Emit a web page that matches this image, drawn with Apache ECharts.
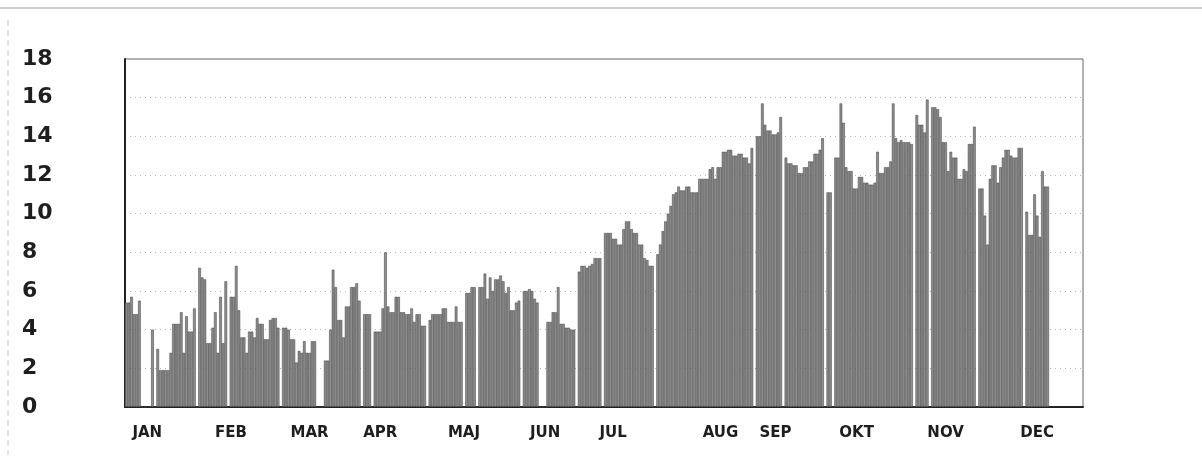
<!DOCTYPE html>
<html>
<head>
<meta charset="utf-8">
<title>Daily values by month</title>
<script src="https://cdn.jsdelivr.net/npm/echarts@6/dist/echarts.min.js"></script>
<style>
  html, body { margin: 0; padding: 0; background: #fff; }
  #chart { width: 1202px; height: 461px; }
</style>
</head>
<body>
<div id="chart"></div>
<script>
// daily values (0 = no bar / gap day)
const dailyValues = [
  5.4, 5.4, 5.7, 4.8, 4.8, 5.5, 0, 0, 0, 0,
  4.0, 0, 3.0, 1.9, 1.9, 1.9, 1.9, 2.8, 4.3, 4.3,
  4.3, 4.9, 2.8, 4.7, 3.9, 3.9, 5.1, 0, 7.2, 6.7,
  6.6, 3.3, 3.3, 4.1, 4.9, 2.8, 5.7, 3.3, 6.5, 0,
  5.7, 5.7, 7.3, 5.0, 3.6, 3.6, 2.8, 3.9, 3.9, 3.6,
  4.6, 4.3, 4.3, 3.5, 3.5, 4.5, 4.6, 4.6, 4.1, 0,
  4.1, 4.1, 4.0, 3.5, 3.5, 2.3, 2.9, 2.8, 3.4, 2.8,
  2.8, 3.4, 3.4, 0, 0, 0, 2.4, 2.4, 4.0, 7.1,
  6.2, 4.5, 4.5, 3.6, 5.2, 5.2, 6.2, 6.2, 6.4, 5.5,
  0, 4.8, 4.8, 4.8, 0, 3.9, 3.9, 3.9, 5.1, 8.0,
  5.2, 4.9, 4.9, 5.7, 5.7, 4.9, 4.9, 4.8, 4.8, 5.1,
  4.4, 4.8, 4.8, 4.2, 4.2, 0, 4.5, 4.8, 4.8, 4.8,
  4.8, 5.1, 5.1, 4.4, 4.4, 4.4, 5.2, 4.4, 4.4, 0,
  5.9, 5.9, 6.2, 6.2, 0, 6.2, 6.2, 6.9, 5.6, 6.7,
  6.0, 6.6, 6.6, 6.8, 6.5, 5.9, 6.2, 5.0, 5.0, 5.4,
  5.5, 0, 6.0, 6.0, 6.1, 6.0, 5.6, 5.4, 0, 0,
  0, 4.4, 4.4, 4.9, 4.9, 6.2, 4.3, 4.3, 4.1, 4.1,
  4.0, 4.0, 0, 7.0, 7.3, 7.3, 7.2, 7.3, 7.4, 7.7,
  7.7, 7.7, 0, 9.0, 9.0, 9.0, 8.7, 8.7, 8.4, 8.4,
  9.2, 9.6, 9.6, 9.2, 9.0, 9.0, 8.4, 8.4, 7.7, 7.6,
  7.3, 7.3, 0, 7.9, 8.4, 9.1, 9.6, 10.0, 10.4, 11.0,
  11.1, 11.4, 11.2, 11.2, 11.4, 11.4, 11.1, 11.1, 11.1, 11.8,
  11.8, 11.8, 11.8, 12.3, 12.4, 11.8, 12.4, 12.4, 13.2, 13.2,
  13.3, 13.3, 13.0, 13.0, 13.1, 13.1, 12.9, 12.9, 12.6, 13.4,
  0, 14.0, 14.0, 15.7, 14.6, 14.3, 14.3, 14.1, 14.1, 14.2,
  15.0, 0, 12.9, 12.6, 12.6, 12.5, 12.5, 12.1, 12.1, 12.4,
  12.4, 12.7, 12.7, 13.1, 13.1, 13.3, 13.9, 0, 11.1, 11.1,
  0, 12.9, 12.9, 15.7, 14.7, 12.4, 12.2, 12.2, 11.3, 11.3,
  11.9, 11.9, 11.6, 11.6, 11.5, 11.5, 11.6, 13.2, 12.1, 12.1,
  12.4, 12.4, 12.7, 15.7, 13.9, 13.7, 13.8, 13.7, 13.7, 13.7,
  13.6, 0, 15.1, 14.6, 14.6, 14.2, 15.9, 0, 15.5, 15.5,
  15.4, 15.0, 13.7, 13.7, 12.2, 13.2, 12.9, 12.9, 11.8, 11.8,
  12.3, 12.2, 13.6, 13.6, 14.5, 0, 11.3, 11.3, 9.9, 8.4,
  11.8, 12.5, 12.5, 11.6, 12.4, 12.9, 13.3, 13.3, 13.0, 12.9,
  12.9, 13.4, 13.4, 0, 10.1, 8.9, 8.9, 11.0, 9.9, 8.8,
  12.2, 11.4, 11.4
]

// month labels and the day they sit under on the axis
const monthNames = ['JAN', 'FEB', 'MAR', 'APR', 'MAJ', 'JUN', 'JUL', 'AUG', 'SEP', 'OKT', 'NOV', 'DEC']
const monthLabelDays = [8, 40, 70, 97, 129, 160, 186, 227, 248, 279, 313, 348]

const totalDays = 366
const days = []
for (let i = 0; i < totalDays; i++) days.push(i)

const barData = days.map(i => (i < dailyValues.length ? dailyValues[i] : null))

const chart = echarts.init(document.getElementById('chart'), null, { renderer: 'canvas' })

chart.setOption({
  backgroundColor: '#ffffff',
  animation: false,
  grid: {
    left: 125,
    right: 119,
    top: 59,
    bottom: 54,
    show: true,
    borderColor: '#666',
    borderWidth: 1
  },
  xAxis: {
    type: 'category',
    data: days,
    boundaryGap: true,
    axisLine: { lineStyle: { color: '#222', width: 2 } },
    axisTick: { show: false },
    axisLabel: {
      interval: (idx) => monthLabelDays.indexOf(idx) !== -1,
      formatter: (val, idx) => {
        const k = monthLabelDays.indexOf(idx)
        return k === -1 ? '' : monthNames[k]
      },
      margin: 19,
      color: '#1e1e1e',
      fontFamily: 'DejaVu Sans',
      fontWeight: 'bold',
      fontSize: 15
    },
    splitLine: { show: false }
  },
  yAxis: {
    type: 'value',
    min: 0,
    max: 18,
    interval: 2,
    axisLine: { show: true, lineStyle: { color: '#222', width: 2 } },
    axisTick: { show: false },
    axisLabel: {
      align: 'left',
      margin: 103,
      color: '#1e1e1e',
      fontFamily: 'DejaVu Sans',
      fontWeight: 'bold',
      fontSize: 22
    },
    splitLine: {
      show: true,
      lineStyle: { color: '#b4b4b4', type: [1, 4], width: 1 }
    }
  },
  series: [{
    type: 'bar',
    data: barData,
    barCategoryGap: '0%',
    barGap: '0%',
    itemStyle: {
      color: '#8e8e8e',
      borderColor: '#3c3c3c',
      borderWidth: 0.5
    }
  }],
  graphic: [
    {
      type: 'line',
      shape: { x1: 0, y1: 8, x2: 1202, y2: 8 },
      style: { stroke: '#9a9a9a', lineWidth: 1 }
    },
    {
      type: 'line',
      shape: { x1: 8, y1: 20, x2: 8, y2: 455 },
      style: { stroke: '#c8c8c8', lineWidth: 1, lineDash: [6, 4] }
    }
  ]
})
</script>
</body>
</html>
